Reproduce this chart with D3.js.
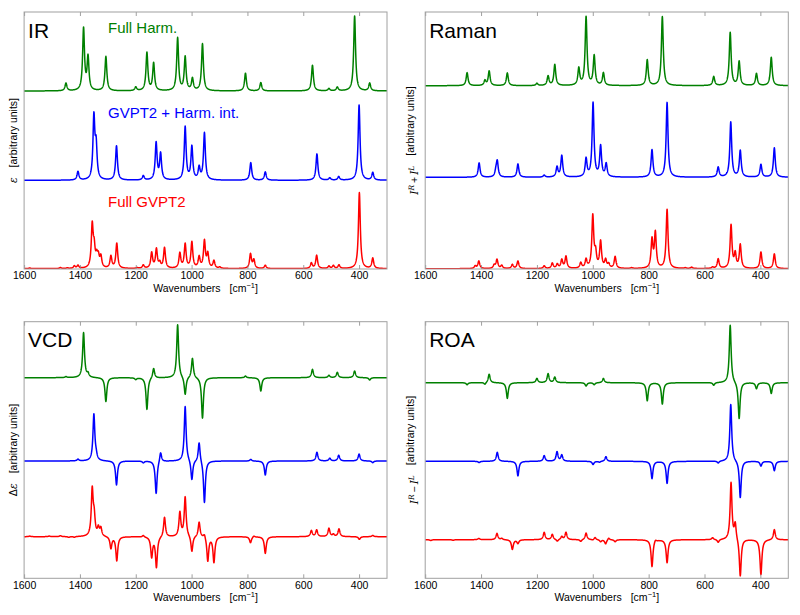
<!DOCTYPE html>
<html><head><meta charset="utf-8">
<script src="https://cdn.jsdelivr.net/npm/d3@7"></script>
<style>body{margin:0;background:#fff}svg{display:block}text{font-family:"Liberation Sans",Arial,sans-serif}</style>
</head><body><svg id="c" width="800" height="615"></svg>
<script>
// ---- Data: stick spectra: [wavenumber (cm-1), intensity (arb. units)] ----
const irFullHarm = [[1450,7.7],[1387,62],[1371,33],[1307,34.3],[1200,3.7],[1160,38],[1136,27.5],[1050,52.7],[1023,33.5],[997,12],[961,47],[807,17.7],[752,8.3],[567,25.7],[508,2.3],[478,3.7],[416,75],[362,7.7]];
const irGvptHarm = [[1407,8.6],[1350,62],[1342,32],[1269,34.3],[1173,4.3],[1127,37],[1111,26],[1023,53],[999,33],[973,12],[954,47],[788,17.6],[736,8.3],[551,26.3],[505,2.3],[473,3.6],[400,75.3],[351,7.6]];
const irFullGvpt = [[1580,0.7],[1470,1],[1445,0.7],[1420,2.5],[1407,3],[1356,42],[1349,18],[1340,10],[1334,10],[1325,11],[1289,12],[1268,25],[1195,0.7],[1173,3.3],[1143,15.5],[1126,19],[1114,5],[1097,20.5],[1042,15],[1023,24],[999,26],[973,11],[954,27],[942,14],[920,7.5],[899,1.3],[789,14.5],[777,8.5],[736,3.3],[571,5.5],[552,13.2],[508,2.4],[492,3],[472,3.5],[399,76],[351,10.3]];

const ramFullHarm = [[1450,13],[1386,5],[1371,14.5],[1306,12.7],[1200,2.3],[1160,9.5],[1136,21],[1050,17],[1024,68.5],[995,29.5],[962,12.5],[805,25.7],[751,69],[567,9],[508,53],[476,24],[414,12],[361,28.3]];
const ramGvptHarm = [[1407,14.3],[1347,5],[1342,15.5],[1268,13.3],[1174,2],[1128,10],[1111,21.5],[1024,18],[999,74],[972,30.5],[952,13],[788,27.3],[734,74.7],[551,10],[506,55],[472,26.5],[398,12.7],[350,29.3]];
const ramFullGvpt = [[1421,2.5],[1408,7.5],[1353,3.3],[1343,9],[1326,3],[1288,4],[1268,7.5],[1174,2.7],[1145,5.3],[1127,4.2],[1111,8.5],[1096,12],[1043,5.5],[1024,8.5],[1000,52],[990,14],[972,26.5],[954,8],[943,4],[920,11.7],[861,0.7],[788,28],[776,35],[734,59],[669,0.7],[646,1.3],[571,1.3],[551,9.5],[505,43],[490,14],[472,23.5],[398,16.5],[350,14.7]];

const vcdFullHarm = [[1450,1],[1387,45],[1371,3.5],[1307,-24],[1200,-1.7],[1160,-32],[1136,10],[1050,53.3],[1023,-18],[997,20],[961,-40.7],[807,1.7],[752,-13.3],[567,8.3],[508,2.3],[478,5.3],[416,6.7],[362,-2.3]];
const vcdGvptHarm = [[1407,1.7],[1350,46.5],[1342,4],[1269,-24],[1173,-1.7],[1127,-33],[1111,10],[1023,55],[999,-20],[973,20],[954,-42.3],[788,1.7],[736,-14],[551,8.7],[505,2.7],[473,5.7],[400,7],[351,-1.7]];
const vcdFullGvpt = [[1580,0.6],[1510,0.6],[1470,1],[1440,-0.8],[1420,-0.8],[1356,46],[1349,18],[1334,8],[1325,8],[1289,-11.7],[1268,-24],[1173,1.7],[1143,-20],[1126,-30.5],[1097,20],[1042,24],[1023,39.5],[999,-16],[973,15],[954,4],[942,-24.5],[920,-25.5],[789,-6],[777,1.3],[736,-16.7],[571,6],[552,6.7],[508,8.3],[492,2.2],[472,7.7],[399,-2.7],[351,1.3]];

const roaFullHarm = [[1450,-2],[1386,-2],[1371,8.7],[1306,-15.7],[1200,4.3],[1160,9],[1136,5.5],[1024,-3.3],[995,-2],[962,4.3],[805,-18],[751,-21.3],[567,-2.7],[508,58],[476,-36.7],[414,-6],[361,-10.7]];
const roaGvptHarm = [[1407,-1.3],[1342,9],[1268,-14.7],[1174,5.7],[1128,9.5],[1111,6.2],[999,-3.3],[976,-1],[953,4.7],[788,-17.3],[734,-22],[551,-2],[506,57.3],[472,-37],[398,-4.7],[350,-9.3]];
const roaFullGvpt = [[1580,-0.8],[1500,-0.6],[1408,1.3],[1343,6.3],[1326,1.3],[1288,-9.7],[1268,-3.7],[1174,7.3],[1145,5.3],[1127,-2],[1111,3],[1096,7.3],[1043,-2],[1024,6.7],[1000,-0.7],[992,2.3],[972,-2],[954,-4.3],[943,2],[920,-2],[788,-27],[776,2],[734,-23],[571,2],[551,-3],[505,57],[490,16],[472,-37.7],[398,-35],[350,10.3]];

const xTicks = [1600, 1400, 1200, 1000, 800, 600, 400];
const xDomain = [1600, 300];
const seriesLabels = ["Full Harm.", "GVPT2 + Harm. int.", "Full GVPT2"];
const seriesColors = ["#008000", "#0000ff", "#ff0000"];

// ---- Layout ----
const svg = d3.select("#c");
const HW = 4; // Lorentzian half-width (cm-1)

function spectrum(peaks) {
  const pts = [];
  for (let w = xDomain[0]; w >= xDomain[1]; w -= 0.5) {
    let s = 0;
    for (const [p, a] of peaks) { const d = w - p; s += a * HW * HW / (d * d + HW * HW); }
    pts.push([w, s]);
  }
  return pts;
}

const panels = [
  {title: "IR", box: [24.1, 12, 387, 269], traces: [irFullHarm, irGvptHarm, irFullGvpt], offsets: [178, 88.7, 0.3], ylab: "eps", labels: true},
  {title: "Raman", box: [425.2, 12, 788.3, 269], traces: [ramFullHarm, ramGvptHarm, ramFullGvpt], offsets: [183.3, 91.7, 0.3], ylab: "plus"},
  {title: "VCD", box: [24.1, 321.7, 387, 578.3], traces: [vcdFullHarm, vcdGvptHarm, vcdFullGvpt], offsets: [200.6, 117.3, 41.6], ylab: "deps"},
  {title: "ROA", box: [425.2, 321.7, 788.3, 578.3], traces: [roaFullHarm, roaGvptHarm, roaFullGvpt], offsets: [195.6, 117, 38.6], ylab: "minus"}
];

panels.forEach((P, pi) => {
  const [l, t, r, b] = P.box;
  const x = d3.scaleLinear().domain(xDomain).range([l, r]);
  const y = d3.scaleLinear().domain([0, b - t]).range([b, t]);
  const g = svg.append("g");
  const cid = "clip" + pi;
  g.append("clipPath").attr("id", cid).append("rect").attr("x", l).attr("y", t).attr("width", r - l).attr("height", b - t);

  const line = d3.line().x(d => x(d[0])).y(d => y(d[1]));
  const lg = g.append("g").attr("clip-path", `url(#${cid})`);
  P.traces.forEach((tr, i) => {
    const off = P.offsets[i];
    const data = spectrum(tr).map(d => [d[0], d[1] + off]);
    lg.append("path").datum(data).attr("d", line).attr("fill", "none")
      .attr("stroke", seriesColors[i]).attr("stroke-width", 1.5).attr("stroke-linejoin", "round");
  });

  // axes (ticks inward, top and bottom)
  const axB = g.append("g").attr("transform", `translate(0,${b})`)
    .call(d3.axisBottom(x).tickValues(xTicks).tickSize(-4).tickPadding(3).tickFormat(d3.format("d")));
  const axT = g.append("g").attr("transform", `translate(0,${t})`)
    .call(d3.axisTop(x).tickValues(xTicks).tickSize(-4).tickFormat(""));
  [axB, axT].forEach(a => { a.select(".domain").remove(); a.selectAll("line").attr("stroke", "#888").attr("stroke-width", 0.8); });
  axB.selectAll("text").attr("font-size", 10.5).attr("fill", "#000").attr("font-family", "Liberation Sans, Arial, sans-serif");

  g.append("rect").attr("x", l).attr("y", t).attr("width", r - l).attr("height", b - t)
    .attr("fill", "none").attr("stroke", "#a0a0a0").attr("stroke-width", 1);

  // x label
  const xl = g.append("text").attr("x", (l + r) / 2).attr("y", b + 23).attr("text-anchor", "middle").attr("font-size", 10.5);
  xl.append("tspan").text("Wavenumbers");
  xl.append("tspan").attr("dx", 9).text("[cm");
  xl.append("tspan").attr("dy", -4).attr("font-size", 7.5).text("\u22121");
  xl.append("tspan").attr("dy", 4).text("]");

  // y label
  const yc = (t + b) / 2;
  const yl = g.append("text").attr("transform", `translate(${l - 7},${yc}) rotate(-90)`).attr("text-anchor", "middle").attr("font-size", 10.5);
  if (P.ylab === "eps") {
    yl.append("tspan").attr("font-style", "italic").attr("font-family", "DejaVu Serif, serif").text("\u03b5");
  } else if (P.ylab === "deps") {
    yl.append("tspan").attr("font-family", "DejaVu Sans, sans-serif").text("\u0394");
    yl.append("tspan").attr("font-style", "italic").attr("font-family", "DejaVu Serif, serif").text("\u03b5");
  } else {
    yl.append("tspan").attr("font-style", "italic").attr("font-family", "DejaVu Serif, serif").text("I");
    yl.append("tspan").attr("dy", -4).attr("font-size", 7.5).attr("font-style", "italic").attr("font-family", "DejaVu Serif, serif").text("R");
    yl.append("tspan").attr("dy", 4).attr("dx", 2).text(P.ylab === "plus" ? "+" : "\u2212");
    yl.append("tspan").attr("dx", 2).attr("font-style", "italic").attr("font-family", "DejaVu Serif, serif").text("I");
    yl.append("tspan").attr("dy", -4).attr("font-size", 7.5).attr("font-style", "italic").attr("font-family", "DejaVu Serif, serif").text("L");
    yl.append("tspan").attr("dy", 4).text("");
  }
  yl.append("tspan").attr("dx", 10).text("[arbitrary units]");

  // title
  g.append("text").attr("x", l + 4).attr("y", t + 25.7).attr("font-size", 21).attr("fill", "#000").text(P.title);

  if (P.labels) {
    const ly = [33.3, 118.3, 206.7];
    seriesLabels.forEach((s, i) => {
      g.append("text").attr("x", 108).attr("y", ly[i]).attr("font-size", 15).attr("fill", seriesColors[i]).text(s);
    });
  }
});
</script></body></html>
